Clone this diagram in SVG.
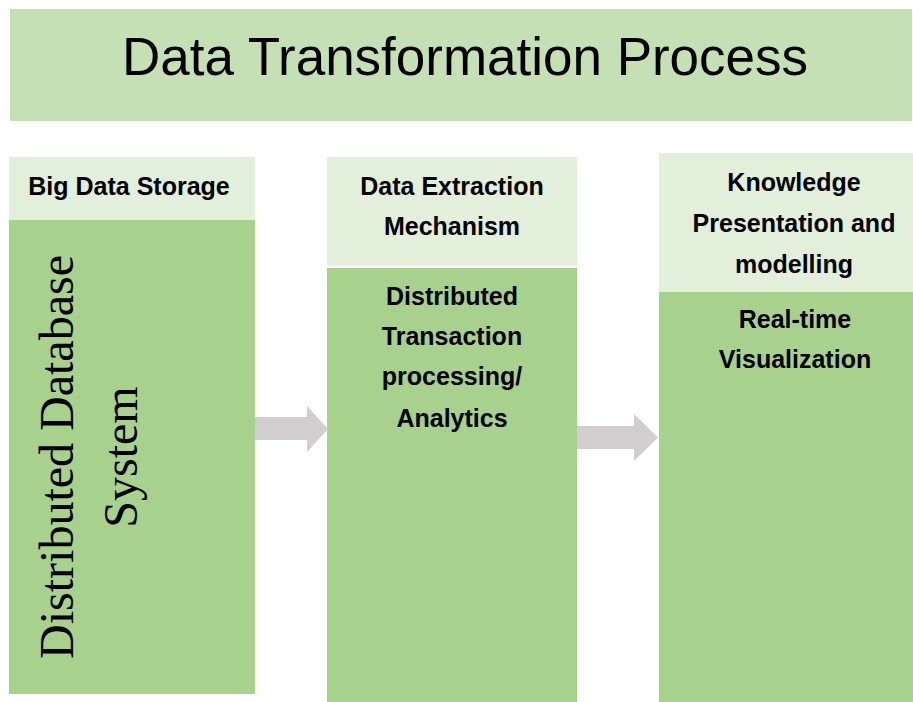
<svg xmlns="http://www.w3.org/2000/svg" width="913" height="702" viewBox="0 0 913 702">
<style>
.banner{fill:#C5E0B4}
.head{fill:#E2EFDA}
.body{fill:#A9D18E}
.arrow{fill:#D0CECE}
.title{font-family:"Liberation Sans",Arial,sans-serif;font-size:54px;fill:#000;text-anchor:middle}
.lbl{font-family:"Liberation Sans",Arial,sans-serif;font-size:25px;font-weight:bold;fill:#000;text-anchor:middle}
.serif{font-family:"Liberation Serif","Times New Roman",serif;font-size:48px;fill:#000;text-anchor:middle}
</style>
<rect width="913" height="702" fill="#fff"/>
<g id="title">
<rect class="banner" x="10" y="9" width="902" height="112"/>
<text class="title" x="465" y="75" textLength="686" lengthAdjust="spacingAndGlyphs">Data Transformation Process</text>
</g>
<g id="storage">
<rect class="head" x="9" y="157" width="246" height="63"/>
<text class="lbl" x="129" y="195">Big Data Storage</text>
<rect class="body" x="9" y="220" width="246" height="474"/>
<text class="serif" transform="translate(73,457) rotate(-90)">Distributed Database</text>
<text class="serif" transform="translate(137,457) rotate(-90)">System</text>
</g>
<g id="extraction">
<rect class="head" x="327" y="157" width="250" height="109"/>
<text class="lbl" x="452" y="195">Data Extraction</text>
<text class="lbl" x="452" y="235">Mechanism</text>
<rect class="body" x="327" y="268" width="250" height="434"/>
<text class="lbl" x="452" y="305">Distributed</text>
<text class="lbl" x="452" y="345">Transaction</text>
<text class="lbl" x="452" y="385">processing/</text>
<text class="lbl" x="452" y="427">Analytics</text>
</g>
<g id="knowledge">
<rect class="head" x="659" y="153" width="254" height="139"/>
<text class="lbl" x="794" y="191">Knowledge</text>
<text class="lbl" x="794" y="232">Presentation and</text>
<text class="lbl" x="794" y="273">modelling</text>
<rect class="body" x="659" y="292" width="254" height="410"/>
<text class="lbl" x="795" y="328">Real-time</text>
<text class="lbl" x="795" y="368">Visualization</text>
</g>
<g id="connectors">
<polygon class="arrow" points="255,417 307,417 307,406 328,429 307,452 307,440 255,440"/>
<polygon class="arrow" points="577,426 634,426 634,414 658,437.5 634,461 634,449 577,449"/>
</g>
</svg>
